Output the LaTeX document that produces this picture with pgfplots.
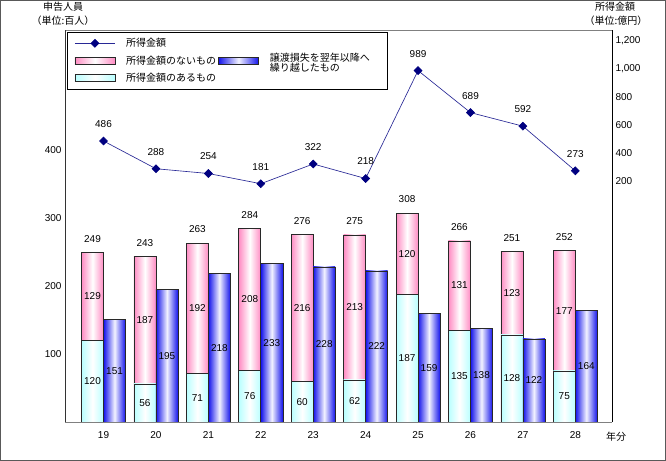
\documentclass[border=0pt]{standalone}
\usepackage{fontspec}
\setmainfont{Liberation Sans}
\newfontfamily\jp{Noto Sans CJK JP}
\usepackage{pgfplots}
\usepackage{pgfplotstable}
\pgfplotsset{compat=1.18}

\definecolor{pinkE}{RGB}{255,140,195}
\definecolor{cyanE}{RGB}{185,255,255}
\definecolor{blueE}{RGB}{20,20,235}
\definecolor{blueM}{RGB}{242,242,255}
\definecolor{navyL}{RGB}{0,0,128}
\definecolor{lineC}{RGB}{40,40,150}
\definecolor{barline}{RGB}{40,40,40}

\newcommand{\lbl}{\fontsize{10bp}{12bp}\selectfont}

\pgfplotstableread{
x yr cyan pink total blue amount
0 19 120 129 249 151 486
1 20 56 187 243 195 288
2 21 71 192 263 218 254
3 22 76 208 284 233 181
4 23 60 216 276 228 322
5 24 62 213 275 222 218
6 25 187 120 308 159 989
7 26 135 131 266 138 689
8 27 128 123 251 122 592
9 28 75 177 252 164 273
}\data

\pgfplotsset{
  common/.style={scale only axis, width=547bp, height=392bp,
    xmin=-0.735, xmax=9.70, at={(65bp,39bp)}, anchor=south west,
    major tick length=0pt, minor tick length=0pt,
    /pgf/number format/assume math mode=true,
    tick label style={font=\lbl}},
  barbase/.style={ybar, bar width=0.42, draw=barline, line width=0.6bp},
  cyanbar/.style={barbase, bar shift=-0.21, left color=cyanE, right color=cyanE, middle color=white},
  pinkbar/.style={barbase, bar shift=-0.21, left color=pinkE, right color=pinkE, middle color=white},
  bluebar/.style={barbase, bar shift=0.21, left color=blueE, right color=blueE, middle color=blueM},
  lbls/.style={draw=none, mark=none, nodes near coords, point meta=explicit,
    every node near coord/.append style={anchor=center, font=\lbl, text=black}},
  lineleg/.style={legend image code/.code={\draw[mark repeat=2,mark phase=2,##1] plot coordinates {(0bp,0bp) (20bp,0bp) (40bp,0bp)};}},
  pinkleg/.style={legend image code/.code={\draw[draw=barline, line width=0.6bp, left color=pinkE, right color=pinkE, middle color=white] (0bp,-3.5bp) rectangle (40bp,3.5bp);}},
  cyanleg/.style={legend image code/.code={\draw[draw=barline, line width=0.6bp, left color=cyanE, right color=cyanE, middle color=white] (0bp,-3.5bp) rectangle (40bp,3.5bp);}},
  blueleg/.style={legend image code/.code={\draw[draw=barline, line width=0.6bp, left color=blueE, right color=blueE, middle color=blueM] (0bp,-3.5bp) rectangle (40bp,3.5bp);}},
}

\begin{document}
\begin{tikzpicture}
\useasboundingbox (0,0) rectangle (666bp,461bp);
\fill[white] (0,0) rectangle (666bp,461bp);
\draw[black!65, line width=1bp] (0.5bp,0.5bp) rectangle (665.5bp,460.5bp);

% Axis A: bars (left axis); each bar its own plot so that its shading is its own
\begin{axis}[common,
  ymin=0, ymax=576, ytick={100,200,300,400},
  xtick={0,...,9}, xticklabels={19,20,21,22,23,24,25,26,27,28},
  xticklabel style={yshift=-6bp},
  separate axis lines, x axis line style={black!50, line width=0.8bp},
  y axis line style={black!80, line width=0.8bp}]
\pgfplotsinvokeforeach{0,...,9}{
  % upper segment (所得金額のないもの) stacked on the lower one
  \addplot[pinkbar, restrict x to domain=#1:#1] table[x=x, y expr=\thisrow{cyan}+\thisrow{pink}]{\data};
  \addplot[cyanbar, restrict x to domain=#1:#1] table[x=x, y=cyan]{\data};
  \addplot[bluebar, restrict x to domain=#1:#1] table[x=x, y=blue]{\data};
}
\addplot[lbls] table[x expr=\thisrow{x}-0.21, y expr=\thisrow{cyan}/2, meta=cyan]{\data};
\addplot[lbls] table[x expr=\thisrow{x}-0.21, y expr=\thisrow{cyan}+\thisrow{pink}/2, meta=pink]{\data};
\addplot[lbls, every node near coord/.append style={yshift=13.5bp}] table[x expr=\thisrow{x}-0.21, y=total, meta=total]{\data};
\addplot[lbls] table[x expr=\thisrow{x}+0.21, y expr=\thisrow{blue}/2, meta=blue]{\data};
\end{axis}

% Axis C: line (right axis) and legend
\begin{axis}[common, ymin=-1521, ymax=1279, axis x line=none, axis y line*=right,
  y axis line style={black, line width=0.8bp},
  ytick={200,400,600,800,1000,1200},
  yticklabel style={/pgf/number format/1000 sep={,}},
  legend columns=2, legend cell align=left,
  legend style={at={(0.004,0.995)}, anchor=north west, draw=black, line width=0.8bp,
    font=\jp\fontsize{10bp}{12bp}\selectfont, inner xsep=7bp, inner ysep=4bp,
    row sep=1bp,
    /tikz/every odd column/.append style={column sep=9bp},
    /tikz/every even column/.append style={column sep=0bp}}]
\addplot[lineC, line width=0.65bp, mark=square*, mark size=2.8bp,
  mark options={rotate=45, fill=navyL, draw=navyL, solid}, lineleg,
  nodes near coords, point meta=explicit,
  every node near coord/.append style={anchor=center, yshift=17bp, font=\lbl, text=black}]
  table[x=x, y=amount, meta=amount]{\data};
\addlegendentry{所得金額}
\addlegendimage{empty legend}
\addlegendentry{}
\addlegendimage{pinkleg}
\addlegendentry{所得金額のないもの}
\addlegendimage{blueleg}
\addlegendentry{\begin{tabular}{@{}l@{\hspace{9bp}}}譲渡損失を翌年以降へ\\[-2bp]繰り越したもの\end{tabular}}
\addlegendimage{cyanleg}
\addlegendentry{所得金額のあるもの}
\addlegendimage{empty legend}
\addlegendentry{}
\end{axis}

\node[font=\jp\fontsize{10bp}{12bp}\selectfont] at (63bp,454bp) {申告人員};
\node[font=\jp\fontsize{10bp}{12bp}\selectfont] at (63bp,440bp) {（単位:百人）};
\node[font=\jp\fontsize{10bp}{12bp}\selectfont] at (615bp,454bp) {所得金額};
\node[font=\jp\fontsize{10bp}{12bp}\selectfont] at (616bp,440bp) {（単位:億円）};
\node[font=\jp\fontsize{10bp}{12bp}\selectfont] at (616bp,24bp) {年分};
\end{tikzpicture}
\end{document}
